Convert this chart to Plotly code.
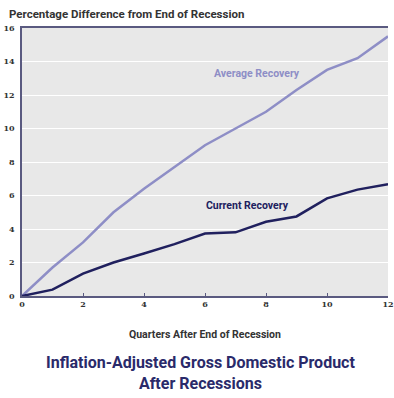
import plotly.graph_objects as go

quarters = list(range(0, 13))
average_recovery = [0, 1.7, 3.2, 5.0, 6.4, 7.7, 9.0, 10.0, 11.0, 12.3, 13.5, 14.2, 15.5]
current_recovery = [0, 0.38, 1.34, 2.0, 2.54, 3.1, 3.73, 3.8, 4.43, 4.75, 5.83, 6.35, 6.68]
x_ticks = [0, 2, 4, 6, 8, 10, 12]
y_ticks = [0, 2, 4, 6, 8, 10, 12, 14, 16]

avg_color = "#8e8ec6"
cur_color = "#20205e"
title_font = "Roboto, sans-serif"

fig = go.Figure()
fig.add_trace(go.Scatter(x=quarters, y=average_recovery, mode="lines",
                         line=dict(color=avg_color, width=2.5), showlegend=False))
fig.add_trace(go.Scatter(x=quarters, y=current_recovery, mode="lines",
                         line=dict(color=cur_color, width=2.5), showlegend=False))

fig.update_layout(
    width=394, height=398,
    margin=dict(l=22, r=6, t=28, b=102),
    paper_bgcolor="white",
    plot_bgcolor="#e8e8e8",
    xaxis=dict(range=[0, 12], tickvals=x_ticks, showgrid=False, zeroline=False,
               automargin=False,
               showline=True, mirror=True, linecolor="#5a5a80", linewidth=1.5,
               ticks="inside", ticklen=3, tickcolor="#5a5a80",
               tickfont=dict(family="DejaVu Serif", size=8, color="#333333", weight="bold")),
    yaxis=dict(range=[0, 16], tickvals=y_ticks, showgrid=True, gridcolor="white",
               automargin=False,
               gridwidth=1, zeroline=False, showline=True, linecolor="#5a5a80",
               linewidth=1.5, ticks="", ticklabelstandoff=4,
               tickfont=dict(family="DejaVu Serif", size=8, color="#333333", weight="bold")),
    annotations=[
        dict(text="<b>Percentage Difference from End of Recession</b>", xref="paper", yref="paper",
             x=-0.04, y=1.0, yshift=14, xanchor="left", yanchor="middle", showarrow=False,
             font=dict(family=title_font, size=11.5, color="#333333")),
        dict(text="<b>Average Recovery</b>", x=7.7, y=13.3, showarrow=False,
             font=dict(family=title_font, size=10.5, color=avg_color)),
        dict(text="<b>Current Recovery</b>", x=7.4, y=5.4, showarrow=False,
             font=dict(family=title_font, size=10.5, color=cur_color)),
        dict(text="<b>Quarters After End of Recession</b>", xref="paper", yref="paper",
             x=0.5, y=0, yshift=-38, xanchor="center", yanchor="middle", showarrow=False,
             font=dict(family=title_font, size=10.5, color="#333333")),
        dict(text="<b>Inflation-Adjusted Gross Domestic Product<br>After Recessions</b>",
             xref="paper", yref="paper", x=0.489, y=0, yshift=-77, xanchor="center",
             yanchor="middle", showarrow=False, align="center",
             font=dict(family=title_font, size=16, color="#2a2a6a")),
    ],
)

fig.write_html("out.html", config={"displayModeBar": False},
               post_script="document.body.style.margin='0';document.body.style.overflow='hidden';")
